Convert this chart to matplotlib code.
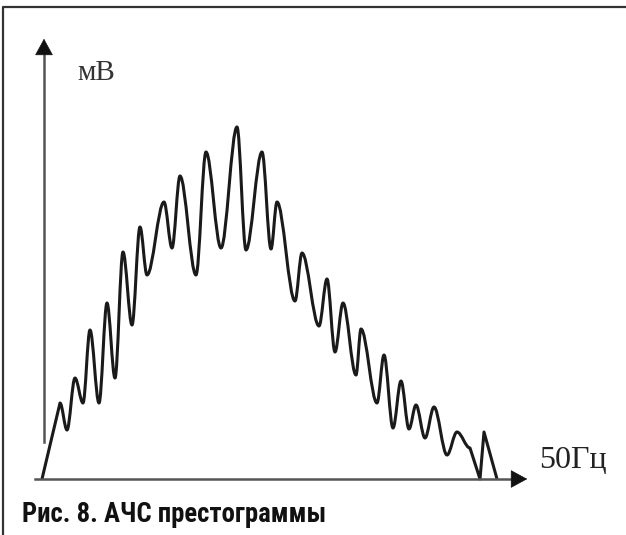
import matplotlib
matplotlib.use("Agg")
import matplotlib.pyplot as plt
from matplotlib.path import Path
from matplotlib.patches import PathPatch

# spectrum curve (frequency in arbitrary units, mV arbitrary)
freq = [0.0, 1.8, 2.5, 3.3, 4.1, 4.8, 5.7, 6.5, 7.3, 8.1, 9.0, 9.8, 10.5,
        12.2, 13.0, 13.8, 15.4, 16.4, 17.9, 19.5, 20.4, 22.0, 22.9, 23.5,
        25.3, 26.0, 27.7, 28.5, 29.3, 30.1, 31.4, 31.9, 33.5, 34.2, 35.1,
        35.9, 36.7, 37.4, 38.3, 39.2, 40.5, 41.5, 42.8, 43.8, 44.2, 45.5]
amp = [0.0, 7.6, 4.9, 10.1, 7.6, 14.9, 7.6, 17.6, 10.1, 22.7, 15.4, 25.2, 20.4,
       27.7, 23.1, 30.3, 20.4, 32.7, 23.1, 35.2, 22.9, 32.7, 23.0, 27.7,
       17.8, 22.6, 15.3, 20.0, 12.7, 17.6, 10.4, 15.0, 7.6, 12.4, 5.1,
       9.8, 5.0, 7.4, 4.1, 7.2, 2.4, 4.7, 3.1, 0.0, 4.7, 0.0]

y_label = "мВ"
x_label = "50Гц"
caption = "Рис. 8. АЧС престограммы"

fig = plt.figure(figsize=(6.26, 5.35), dpi=100)
ax = fig.add_axes([0, 0, 1, 1])
ax.set_xlim(-4.2, 58.4)
ax.set_ylim(-5.6, 47.9)
ax.axis("off")

# frame (left and top edges only)
ax.plot([0.005, 0.005, 1.0], [0.0, 0.987, 0.987], transform=ax.transAxes,
        color="#333333", lw=1.6, clip_on=False, solid_capstyle="butt")

# axes with arrows
axis_col = "#555555"
ax.plot([0.2, 0.2], [3.7, 43.0], color=axis_col, lw=1.8)
ax.annotate("", xy=(0.2, 44.3), xytext=(0.2, 42.5),
            arrowprops=dict(arrowstyle="-|>,head_length=0.55,head_width=0.3",
                            mutation_scale=20, color="#111111", lw=0.5))
ax.plot([-0.7, 47.5], [0.0, 0.0], color=axis_col, lw=1.8)
ax.annotate("", xy=(48.8, 0.0), xytext=(47.0, 0.0),
            arrowprops=dict(arrowstyle="-|>,head_length=0.55,head_width=0.3",
                            mutation_scale=20, color="#111111", lw=0.5))

# smooth wave through the read peaks/troughs (flat tangents at each extremum)
k = 0.35
verts = [(freq[0], amp[0])]
codes = [Path.MOVETO]
for i in range(1, len(freq)):
    x0, y0, x1, y1 = freq[i - 1], amp[i - 1], freq[i], amp[i]
    if y0 == 0 or y1 == 0:
        verts.append((x1, y1))
        codes.append(Path.LINETO)
    else:
        dx = x1 - x0
        verts += [(x0 + k * dx, y0), (x1 - k * dx, y1), (x1, y1)]
        codes += [Path.CURVE4] * 3
ax.add_patch(PathPatch(Path(verts, codes), fill=False, edgecolor="#1a1a1a",
                       lw=2.2, joinstyle="round"))

ax.text(3.5, 40.6, y_label, fontsize=21, family="Liberation Serif",
        color="#333333", ha="left", va="center")
ax.text(49.7, 1.9, x_label, fontsize=23, family="Liberation Serif",
        color="#222222", ha="left", va="center")
ax.text(-2.0, -4.3, caption, fontsize=19.3, weight="bold",
        family=["Roboto Condensed", "DejaVu Sans"],
        color="#111111", ha="left", va="baseline")

fig.savefig("out.png", dpi=100)
